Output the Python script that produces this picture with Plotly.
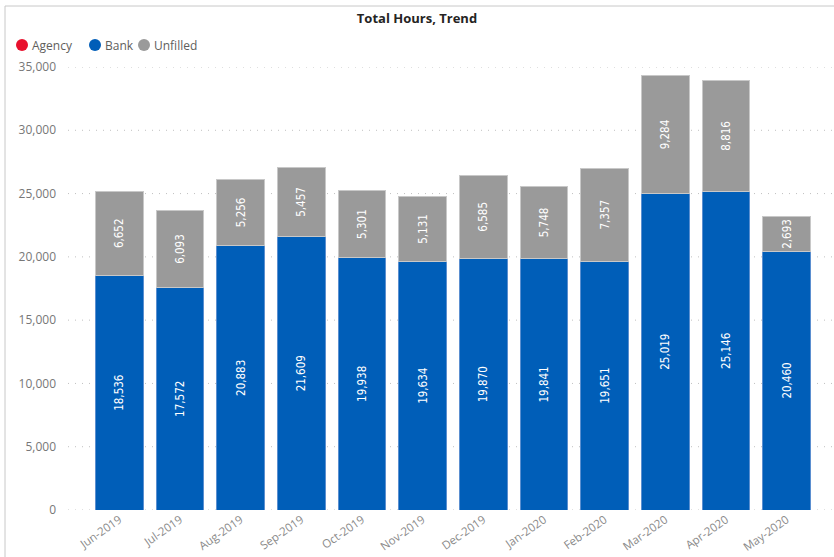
import plotly.graph_objects as go

months = ["Jun-2019", "Jul-2019", "Aug-2019", "Sep-2019", "Oct-2019", "Nov-2019",
          "Dec-2019", "Jan-2020", "Feb-2020", "Mar-2020", "Apr-2020", "May-2020"]
bank = [18536, 17572, 20883, 21609, 19938, 19634, 19870, 19841, 19651, 25019, 25146, 20460]
unfilled = [6652, 6093, 5256, 5457, 5301, 5131, 6585, 5748, 7357, 9284, 8816, 2693]
agency = [0] * 12
y_ticks = [0, 5000, 10000, 15000, 20000, 25000, 30000, 35000]
series_names = ["Agency", "Bank", "Unfilled"]

C_AGENCY = "#E8112D"
C_BANK = "#005EB8"
C_UNF = "#9A9A9A"
colors = [C_AGENCY, C_BANK, C_UNF]

L, R, T, B = 89, 17, 67, 47
PW, PH = 834 - L - R, 557 - T - B


def px_x(p):
    return (p - L) / PW


def px_y(p):
    return (557 - B - p) / PH


fig = go.Figure()
label_font = dict(family="DejaVu Sans Condensed, Roboto, sans-serif", size=11.5, color="white")

fig.add_trace(go.Bar(x=months, y=bank, marker=dict(color=C_BANK, line=dict(color="#5B8FD0", width=1)),
                     text=[f"{v:,}" for v in bank], textposition="inside", insidetextanchor="middle",
                     textangle=-90, textfont=label_font, showlegend=False, name="Bank",
                     constraintext="none"))
fig.add_trace(go.Bar(x=months, y=unfilled, marker=dict(color=C_UNF, line=dict(color="#C8C8C8", width=1)),
                     text=[f"{v:,}" for v in unfilled], textposition="inside", insidetextanchor="middle",
                     textangle=-90, textfont=label_font, showlegend=False, name="Unfilled",
                     constraintext="none"))

# legend drawn manually (circle markers, compact spacing)
legend_x = [22, 95, 144]
for name, col, cx in zip(series_names, colors, legend_x):
    fig.add_shape(type="circle", xref="paper", yref="paper", xsizemode="pixel", ysizemode="pixel",
                  xanchor=px_x(cx), yanchor=px_y(45), x0=-6, x1=6, y0=-6, y1=6,
                  fillcolor=col, line=dict(width=0))
    fig.add_annotation(text=name, xref="paper", yref="paper", x=px_x(cx + 8), y=px_y(45),
                       xanchor="left", yanchor="middle", showarrow=False,
                       font=dict(family="Open Sans, sans-serif", size=12, color="#605E5C"))

# dotted gridlines spanning the full visual width
for v in y_ticks:
    fig.add_shape(type="line", xref="paper", yref="y", x0=px_x(68), x1=px_x(832), y0=v, y1=v,
                  line=dict(color="#C0C0C0", width=1, dash="1px,6px"), layer="below")

fig.update_layout(
    width=834, height=557,
    barmode="stack", bargap=0.21, showlegend=False,
    paper_bgcolor="white", plot_bgcolor="white",
    margin=dict(l=L, r=R, t=T, b=B),
    title=dict(text="<b>Total Hours, Trend</b>", x=0.5, xanchor="center", y=1 - 18 / 557, yanchor="middle",
               font=dict(family="Open Sans, sans-serif", size=13, color="#252423")),
    font=dict(family="Open Sans, sans-serif", color="#777777"),
    uniformtext=dict(minsize=9, mode="show"),
)
fig.update_xaxes(tickangle=-35, tickfont=dict(size=11.5, color="#8A8A8A"), showgrid=False,
                 showline=False, ticks="", automargin=False)
fig.update_yaxes(range=[0, 35000], tickvals=y_ticks, tickformat=",", showgrid=False, zeroline=False,
                 tickfont=dict(size=12, color="#777777"), ticks="", ticklabelstandoff=32,
                 automargin=False)

fig.add_shape(type="line", xref="paper", yref="paper", x0=px_x(5), x1=px_x(5),
              y0=px_y(557), y1=px_y(6), line=dict(color="#C8C8C8", width=1))
fig.add_shape(type="line", xref="paper", yref="paper", x0=px_x(5), x1=px_x(834),
              y0=px_y(6), y1=px_y(6), line=dict(color="#C8C8C8", width=1))

fig.write_html("out.html")
